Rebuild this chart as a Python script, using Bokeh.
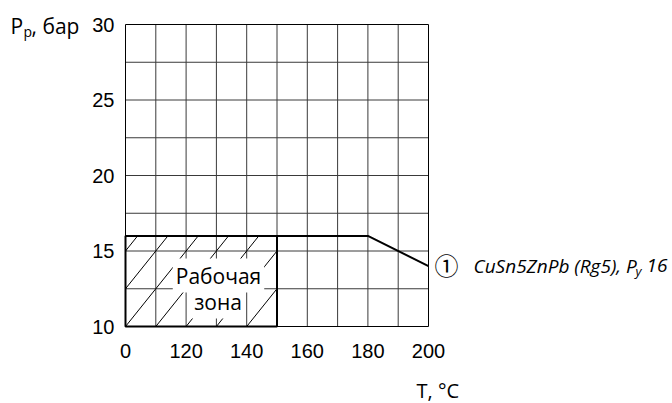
import math
from bokeh.plotting import figure
from bokeh.models import Range1d, FixedTicker, Label
from bokeh.embed import file_html
from bokeh.resources import INLINE

# ---- data ----
temp_c = [100, 180, 200]
pressure_bar = [16, 16, 14]
zone_t = [100, 150]
zone_p = [10, 16]
x_ticks = [100, 120, 140, 160, 180, 200]
x_tick_labels = ["0", "120", "140", "160", "180", "200"]
y_ticks = [10, 15, 20, 25, 30]
x_grid = [100, 110, 120, 130, 140, 150, 160, 170, 180, 190, 200]
y_grid = [10, 12.5, 15, 17.5, 20, 22.5, 25, 27.5, 30]
series_label = "CuSn5ZnPb (Rg5), P"

# ---- layout: page pixels of the chart grid box ----
W, H = 672, 403
FL, FR, FT, FB = 125, 428, 24, 326
XA, XB = x_grid[0], x_grid[-1]
YA, YB = y_grid[0], y_grid[-1]

def dx(px):
    return XA + (px - FL) * (XB - XA) / (FR - FL)

def dy(py):
    return YA + (FB - py) * (YB - YA) / (FB - FT)

# the frame covers the whole canvas so that outside texts are not clipped
p = figure(width=W, height=H, x_range=Range1d(dx(0), dx(W)), y_range=Range1d(dy(H), dy(0)),
           output_backend="svg", toolbar_location=None,
           min_border_left=0, min_border_right=0, min_border_top=0, min_border_bottom=0)
p.background_fill_color = "white"
p.border_fill_color = "white"
p.outline_line_color = None
p.grid.visible = False

for ax in (p.xaxis[0], p.yaxis[0]):
    ax.axis_line_color = None
    ax.major_tick_line_color = None
    ax.minor_tick_line_color = None
    ax.major_tick_out = 0
    ax.major_tick_in = 0
    ax.minor_tick_out = 0
    ax.major_label_text_font = "Liberation Sans"
    ax.major_label_text_font_size = "20px"
    ax.major_label_text_color = "black"

p.xaxis.fixed_location = YA
p.xaxis.bounds = (XA, XB)
p.xaxis.ticker = FixedTicker(ticks=x_ticks)
p.xaxis.major_label_overrides = {t: l for t, l in zip(x_ticks, x_tick_labels)}
p.xaxis.major_label_standoff = 17
p.yaxis.fixed_location = XA
p.yaxis.bounds = (YA, YB)
p.yaxis.ticker = FixedTicker(ticks=y_ticks)
p.yaxis.major_label_standoff = 11

# grid lines
p.segment(x0=x_grid[1:-1], y0=[YA] * (len(x_grid) - 2), x1=x_grid[1:-1], y1=[YB] * (len(x_grid) - 2),
          line_color="#3a3a3a", line_width=1)
p.segment(x0=[XA] * (len(y_grid) - 2), y0=y_grid[1:-1], x1=[XB] * (len(y_grid) - 2), y1=y_grid[1:-1],
          line_color="#3a3a3a", line_width=1)

# hatch of the working zone: diagonals of the grid cells, clipped to the zone
gx = x_grid[1] - x_grid[0]
gy = y_grid[1] - y_grid[0]
slope = gy / gx
zh = zone_p[1] - zone_p[0]
k0 = -math.ceil(zh / slope / gx)
k1 = math.ceil((zone_t[1] - zone_t[0]) / gx)
x0s, y0s, x1s, y1s = [], [], [], []
for k in range(k0, k1 + 1):
    start = zone_t[0] + k * gx
    xa = max(zone_t[0], start)
    xb = min(zone_t[1], start + zh / slope)
    if xb <= xa:
        continue
    x0s.append(xa); y0s.append(zone_p[0] + slope * (xa - start))
    x1s.append(xb); y1s.append(zone_p[0] + slope * (xb - start))
p.segment(x0=x0s, y0=y0s, x1=x1s, y1=y1s, line_color="black", line_width=1)

# outer box of the chart and the working zone
p.quad(left=[XA], right=[XB], bottom=[YA], top=[YB], fill_color=None,
       line_color="black", line_width=1)
p.quad(left=[zone_t[0]], right=[zone_t[1]], bottom=[zone_p[0]], top=[zone_p[1]],
       fill_color=None, line_color="black", line_width=2)

# pressure curve
p.line(temp_c, pressure_bar, line_color="black", line_width=2)

def lab(text, px, py, font="Open Sans", size="20px", style="normal", align="left",
        baseline="middle", **kw):
    p.add_layout(Label(x=dx(px), y=dy(py), text=text, text_font=font,
                       text_font_size=size, text_font_style=style, text_align=align,
                       text_baseline=baseline, text_color="black", **kw))

# zone text
lab("Рабочая", 218, 275, size="21px", align="center",
    background_fill_color="white", padding=3)
lab("зона", 217.5, 301, size="21px", align="center",
    background_fill_color="white", padding=3)

# axis titles
lab("P", 10, 25, size="21px")
lab("p", 23, 31, size="14px")
lab(", бар", 31, 25, size="21px")
lab("T, °C", 416, 390, size="20px")

# series marker and name
lab("①", 446, 264, font="Noto Sans CJK SC", size="24px", align="center")
lab(series_label, 473, 265, size="19px", style="italic")
lab("y", 641, 270, size="13px", style="italic", align="right")
lab("16", 667, 265, size="19px", style="italic", align="right")

open("out.html", "w").write(file_html(p, INLINE))
